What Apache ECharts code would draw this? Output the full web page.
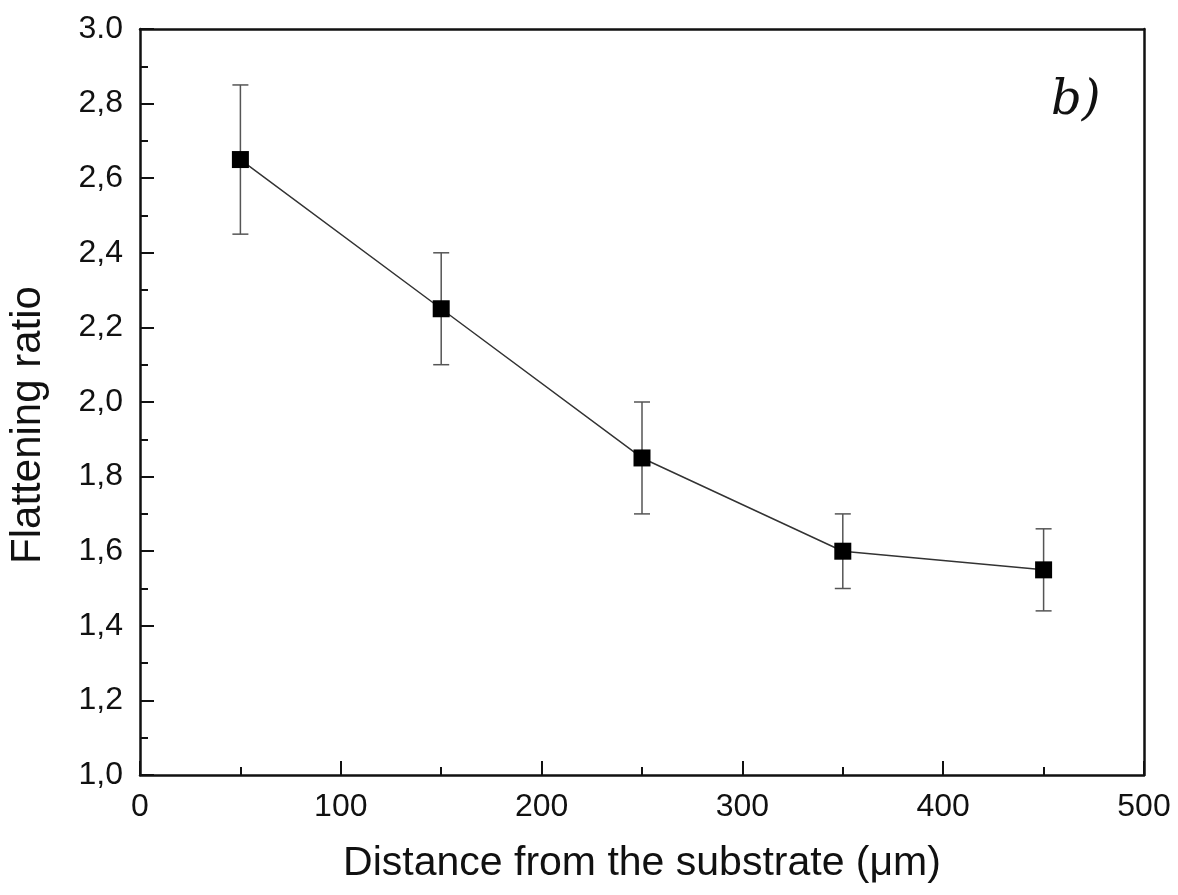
<!DOCTYPE html>
<html><head><meta charset="utf-8">
<script src="https://cdn.jsdelivr.net/npm/echarts@6/dist/echarts.min.js"></script>
<style>html,body{margin:0;padding:0;background:#fff}#c{width:1178px;height:895px}</style>
</head><body><div id="c"></div>
<script>
const distances = [50, 150, 250, 350, 450];
const ratios = [2.65, 2.25, 1.85, 1.60, 1.55];
const errLow = [2.45, 2.10, 1.70, 1.50, 1.44];
const errHigh = [2.85, 2.40, 2.00, 1.70, 1.66];
const yTickLabels = {"1":"1,0","1.2":"1,2","1.4":"1,4","1.6":"1,6","1.8":"1,8","2":"2,0","2.2":"2,2","2.4":"2,4","2.6":"2,6","2.8":"2,8","3":"3.0"};

const chart = echarts.init(document.getElementById('c'));
const font = 'Liberation Sans, Arial, sans-serif';
chart.setOption({
  animation: false,
  grid: {left: 140, right: 34, top: 29, bottom: 120, containLabel: false, outerBoundsMode: 'none'},
  xAxis: [{
    type: 'value', min: 0, max: 500, interval: 100,
    name: 'Distance from the substrate (\u03bcm)', nameLocation: 'middle', nameGap: 68,
    nameTextStyle: {fontFamily: font, fontSize: 41, color: '#111'},
    axisLine: {show: true, lineStyle: {color: '#111', width: 2.5}},
    axisTick: {show: true, inside: true, length: 14, lineStyle: {color: '#111', width: 2}},
    minorTick: {show: true, splitNumber: 2, length: 8, lineStyle: {color: '#111', width: 2}},
    axisLabel: {fontFamily: font, fontSize: 32, color: '#111', margin: 16},
    splitLine: {show: false}
  }, {
    type: 'value', min: 0, max: 500, position: 'top',
    axisLine: {show: true, onZero: false, lineStyle: {color: '#111', width: 2.5}},
    axisTick: {show: false}, axisLabel: {show: false}, splitLine: {show: false}
  }],
  yAxis: [{
    type: 'value', min: 1, max: 3, interval: 0.2,
    name: 'Flattening ratio', nameLocation: 'middle', nameGap: 91,
    nameTextStyle: {fontFamily: font, fontSize: 42, color: '#111', padding: [0, 46, 0, 0]},
    axisLine: {show: true, lineStyle: {color: '#111', width: 2.5}},
    axisTick: {show: true, inside: true, length: 14, lineStyle: {color: '#111', width: 2}},
    minorTick: {show: true, splitNumber: 2, length: 8, lineStyle: {color: '#111', width: 2}},
    axisLabel: {fontFamily: font, fontSize: 32, color: '#111', margin: 17,
      formatter: v => yTickLabels[String(Math.round(v*10)/10)] || ''},
    splitLine: {show: false}
  }, {
    type: 'value', min: 1, max: 3, position: 'right',
    axisLine: {show: true, onZero: false, lineStyle: {color: '#111', width: 2.5}},
    axisTick: {show: false}, axisLabel: {show: false}, splitLine: {show: false}
  }],
  graphic: [{
    type: 'text', left: 1051, top: 78,
    style: {text: 'b)', font: 'italic 48px "DejaVu Serif", "Liberation Serif", serif', fill: '#111'}
  }],
  series: [{
    type: 'custom',
    data: distances.map((d, i) => [d, errLow[i], errHigh[i]]),
    renderItem: (params, api) => {
      const lo = api.coord([api.value(0), api.value(1)]);
      const hi = api.coord([api.value(0), api.value(2)]);
      const w = 8;
      const st = {stroke: '#555', lineWidth: 1.5};
      return {type: 'group', children: [
        {type: 'line', shape: {x1: lo[0], y1: lo[1], x2: hi[0], y2: hi[1]}, style: st},
        {type: 'line', shape: {x1: lo[0]-w, y1: lo[1], x2: lo[0]+w, y2: lo[1]}, style: st},
        {type: 'line', shape: {x1: hi[0]-w, y1: hi[1], x2: hi[0]+w, y2: hi[1]}, style: st}
      ]};
    },
    z: 1
  }, {
    type: 'line',
    data: distances.map((d, i) => [d, ratios[i]]),
    symbol: 'rect', symbolSize: 17,
    lineStyle: {color: '#333', width: 1.5},
    itemStyle: {color: '#000'},
    z: 3
  }]
});
</script></body></html>
